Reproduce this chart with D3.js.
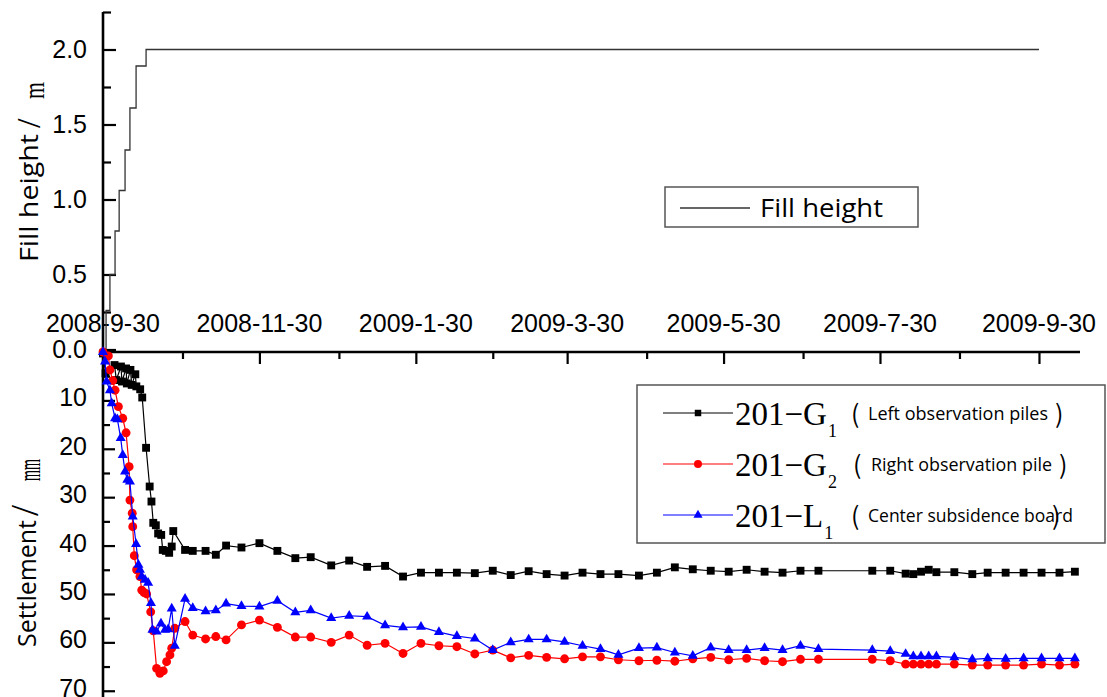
<!DOCTYPE html>
<html>
<head>
<meta charset="utf-8">
<script src="https://cdn.jsdelivr.net/npm/d3@7"></script>
<style>
  body { margin: 0; background: #fff; }
  svg { display: block; }
</style>
</head>
<body>
<svg id="chart" width="1107" height="697"></svg>
<script>
// ---- Data -------------------------------------------------------------
// Time is counted in days after filling started (2008-9-30).
const fillDays    = [0, 1.2, 2.7, 4.7, 6.3, 8.6, 10.5, 12.9, 16.8, 365];
const fillHeights = [0, 0.26, 0.5, 0.79, 1.06, 1.33, 1.61, 1.89, 2.0, 2.0];

// Regular survey days shared by all three monitoring points
const surveyDays = [32, 35, 40, 44, 48, 54, 61, 68, 75, 81,
                    89, 96, 103, 110, 117, 124, 131, 138, 145, 152,
                    159, 166, 173, 180, 187, 194, 201, 209, 216, 223,
                    230, 237, 244, 251, 258, 265, 272, 279, 300, 307,
                    313, 316, 319, 322, 325, 332, 339, 345, 352, 359,
                    366, 373, 379];

// 201-G1 (left observation pile)
const g1EarlyDays = [0, 1.0, 4.5, 5.2, 7.0, 7.4, 9.0, 9.3, 10.7, 11.2, 12.6, 13.0, 14.5, 15.3,
                     16.8, 18.2, 18.9, 19.6, 20.6, 21.5, 22.7, 23.3, 24.5, 25.8, 26.8, 27.4];
const g1Values = [0.3, 4.4, 2.7, 5.8, 3.0, 6.1, 3.4, 6.5, 3.7, 6.8, 4.6, 7.1, 7.7, 9.4,
                  19.8, 27.8, 30.9, 35.3, 35.8, 37.5, 37.8, 40.9, 41.1, 41.5, 40.2, 37.0,
                  40.9, 41.1, 41.1, 41.9, 40.0, 40.4, 39.5, 41.1, 42.6, 42.4,
                  44.1, 43.1, 44.4, 44.2, 46.4, 45.6, 45.6, 45.6, 45.7, 45.2,
                  46.1, 45.3, 45.9, 46.2, 45.6, 45.9, 45.9, 46.2, 45.6, 44.5,
                  44.9, 45.2, 45.4, 45.0, 45.4, 45.6, 45.2, 45.2, 45.2, 45.2,
                  45.8, 45.9, 45.4, 45.0, 45.5, 45.5, 45.9, 45.6, 45.6, 45.6,
                  45.6, 45.6, 45.4];

// 201-G2 (right observation pile)
const g2EarlyDays = [0, 2.1, 2.7, 3.8, 4.7, 6.0, 7.7, 9.0, 10.2, 10.5, 11.4, 11.6, 12.2, 13.1,
                     14.4, 15.1, 16.0, 17.0, 18.6, 19.6, 20.9, 22.2, 23.5, 24.8, 26.1, 26.8, 28.0];
const g2Values = [0, 0.8, 3.7, 5.9, 7.9, 11.3, 13.7, 16.7, 23.7, 30.6, 33.3, 36.1, 42.1, 45.0,
                  46.4, 49.2, 49.7, 50.0, 53.7, 57.6, 65.4, 66.4, 65.9, 64.0, 62.6, 61.2, 57.1,
                  55.7, 58.5, 59.3, 58.8, 59.5, 56.4, 55.4, 56.9, 58.9, 58.9,
                  60.0, 58.5, 60.6, 60.2, 62.3, 60.2, 60.7, 60.9, 62.4, 61.6,
                  63.2, 62.7, 63.1, 63.4, 63.0, 63.0, 63.6, 63.8, 63.7, 63.9,
                  63.4, 63.1, 63.6, 63.3, 63.8, 64.0, 63.5, 63.5, 63.5, 63.8,
                  64.5, 64.5, 64.5, 64.5, 64.5, 64.5, 64.7, 64.7, 64.7, 64.7,
                  64.5, 64.7, 64.5];

// 201-L1 (center subsidence board)
const l1EarlyDays = [0, 0.8, 1.4, 2.7, 3.4, 4.7, 5.6, 6.9, 7.7, 8.6, 9.5, 10.5, 11.6, 12.9,
                     13.8, 14.4, 15.1, 16.4, 17.6, 18.7, 19.3, 20.9, 22.6, 24.2, 25.4, 26.8, 28.0];
const l1Values = [0, 2.0, 6.1, 7.9, 10.6, 13.7, 13.9, 17.8, 21.3, 24.7, 26.4, 26.8, 34.0, 39.7,
                  44.0, 45.0, 46.4, 47.1, 47.7, 51.9, 57.4, 57.8, 56.1, 57.4, 57.3, 53.0, 60.7,
                  51.0, 52.9, 53.6, 53.4, 52.0, 52.5, 52.6, 51.4, 53.8, 53.4,
                  55.0, 54.5, 54.7, 56.5, 56.9, 56.8, 57.9, 58.7, 59.2, 61.6,
                  60.0, 59.4, 59.4, 59.9, 60.7, 61.4, 62.6, 61.2, 61.1, 62.1,
                  62.8, 61.1, 61.6, 61.6, 61.2, 61.6, 60.7, 61.4, 61.6, 61.8,
                  62.4, 62.9, 62.9, 62.9, 62.9, 63.1, 63.5, 63.3, 63.4, 63.3,
                  63.3, 63.3, 63.3];

const xTickLabels  = ["2008-9-30", "2008-11-30", "2009-1-30", "2009-3-30", "2009-5-30", "2009-7-30", "2009-9-30"];
const xMinorTicks  = ["2008-10-31", "2008-12-31", "2009-3-1", "2009-4-30", "2009-6-30", "2009-8-30"];
const fillTicks      = [0, 0.5, 1.0, 1.5, 2.0];
const fillMinorTicks = [0.25, 0.75, 1.25, 1.75, 2.25];
const settleTicks      = [10, 20, 30, 40, 50, 60, 70];
const settleMinorTicks = [5, 15, 25, 35, 45, 55, 65];

const seriesNames = ["201\u2212G", "201\u2212G", "201\u2212L"];
const seriesSubs  = ["1", "2", "1"];
const seriesNotes = ["Left observation piles", "Right observation pile", "Center subsidence board"];
const seriesColors = ["#000000", "#ff0000", "#0000ff"];

// ---- Setup ------------------------------------------------------------
const svg = d3.select("#chart");
const startMs = Date.UTC(2008, 8, 30);
const dayToDate = d => new Date(startMs + d * 864e5);
const parseDate = d3.utcParse("%Y-%m-%d");

const x = d3.scaleUtc().domain([dayToDate(0), dayToDate(381)]).range([103, 1080]);
const yFill = d3.scaleLinear().domain([0, 2.25]).range([349.5, 12]);
const ySet = d3.scaleLinear().domain([0, 71.5]).range([352, 698]);

const tickFont = "'Liberation Sans', Arial, sans-serif";
const titleFont = "'Open Sans', 'Noto Sans', sans-serif";
const serifFont = "'Liberation Serif', 'Times New Roman', serif";
const parenFont = "'Noto Sans CJK SC', 'Open Sans', sans-serif";

// ---- Date labels (above the settlement panel) --------------------------
svg.append("g")
  .selectAll("text")
  .data(xTickLabels)
  .join("text")
  .attr("x", d => x(parseDate(d)))
  .attr("y", 332)
  .attr("text-anchor", "middle")
  .attr("font-family", tickFont)
  .attr("font-size", 25)
  .attr("fill", "#000")
  .text(d => d);

// ---- Axes ---------------------------------------------------------------
function styleAxis(g, width) {
  g.select(".domain").remove();
  g.selectAll(".tick line").attr("stroke", "#000").attr("stroke-width", width);
  g.selectAll(".tick text").attr("font-family", tickFont).attr("font-size", 25).attr("fill", "#000");
}

// fill height axis
svg.append("g").attr("transform", "translate(103,0)")
  .call(d3.axisLeft(yFill).tickValues(fillTicks).tickSizeInner(-13).tickSizeOuter(0)
        .tickPadding(16).tickFormat(d3.format(".1f")))
  .call(g => styleAxis(g, 2.2));
svg.append("g").attr("transform", "translate(103,0)")
  .call(d3.axisLeft(yFill).tickValues(fillMinorTicks).tickSizeInner(-8).tickSizeOuter(0).tickFormat(""))
  .call(g => styleAxis(g, 2.2));

// settlement axis
svg.append("g").attr("transform", "translate(103,0)")
  .call(d3.axisLeft(ySet).tickValues(settleTicks).tickSizeInner(-12).tickSizeOuter(0)
        .tickPadding(16).tickFormat(d3.format("d")))
  .call(g => styleAxis(g, 2.2))
  .call(g => g.selectAll(".tick text").attr("dy", "0.22em"));
svg.append("g").attr("transform", "translate(103,0)")
  .call(d3.axisLeft(ySet).tickValues(settleMinorTicks).tickSizeInner(-7).tickSizeOuter(0).tickFormat(""))
  .call(g => styleAxis(g, 2.2));

// time axis along the top of the settlement panel, ticks pointing down
svg.append("g").attr("transform", "translate(0,352)")
  .call(d3.axisBottom(x).tickValues(xTickLabels.map(parseDate)).tickSizeInner(12).tickSizeOuter(0).tickFormat(""))
  .call(g => styleAxis(g, 2.2));
svg.append("g").attr("transform", "translate(0,352)")
  .call(d3.axisBottom(x).tickValues(xMinorTicks.map(parseDate)).tickSizeInner(7).tickSizeOuter(0).tickFormat(""))
  .call(g => styleAxis(g, 2.2));

// spines
svg.append("line").attr("x1", 103).attr("x2", 103).attr("y1", 12).attr("y2", 697)
  .attr("stroke", "#000").attr("stroke-width", 2.6);
svg.append("line").attr("x1", 103).attr("x2", 1080).attr("y1", 352).attr("y2", 352)
  .attr("stroke", "#000").attr("stroke-width", 2.6);

// ---- Fill height step line -----------------------------------------------
const fillData = fillDays.map((d, i) => [d, fillHeights[i]]);
svg.append("path")
  .datum(fillData)
  .attr("fill", "none")
  .attr("stroke", "#333")
  .attr("stroke-width", 1.3)
  .attr("d", d3.line().curve(d3.curveStepAfter)
    .x(d => x(dayToDate(d[0])))
    .y(d => yFill(d[1])));

// ---- Settlement series --------------------------------------------------
const seriesDays = [g1EarlyDays.concat(surveyDays), g2EarlyDays.concat(surveyDays), l1EarlyDays.concat(surveyDays)];
const seriesVals = [g1Values, g2Values, l1Values];
const symbols = [d3.symbol(d3.symbolSquare, 62), d3.symbol(d3.symbolCircle, 62), d3.symbol(d3.symbolTriangle, 44)];

const settleLine = d3.line()
  .x(d => x(dayToDate(d[0])))
  .y(d => ySet(d[1]));

seriesDays.forEach((days, i) => {
  const pts = days.map((d, j) => [d, seriesVals[i][j]]);
  const g = svg.append("g");
  g.append("path")
    .datum(pts)
    .attr("fill", "none")
    .attr("stroke", seriesColors[i])
    .attr("stroke-width", 1.2)
    .attr("d", settleLine);
  g.selectAll("path.mark")
    .data(pts)
    .join("path")
    .attr("class", "mark")
    .attr("transform", d => `translate(${x(dayToDate(d[0]))},${ySet(d[1])})`)
    .attr("d", symbols[i])
    .attr("fill", seriesColors[i]);
});

// ---- Fill height legend ---------------------------------------------------
const fl = svg.append("g");
fl.append("rect").attr("x", 665).attr("y", 187).attr("width", 253).attr("height", 40)
  .attr("fill", "#fff").attr("stroke", "#555").attr("stroke-width", 1.5);
fl.append("line").attr("x1", 680).attr("x2", 750).attr("y1", 208).attr("y2", 208)
  .attr("stroke", "#333").attr("stroke-width", 1.3);
fl.append("text").attr("x", 760).attr("y", 217)
  .attr("font-family", titleFont).attr("font-size", 25)
  .attr("textLength", 123).attr("lengthAdjust", "spacingAndGlyphs")
  .text("Fill height");

// ---- Settlement legend ----------------------------------------------------
const sl = svg.append("g");
sl.append("rect").attr("x", 637).attr("y", 385).attr("width", 468).attr("height", 158)
  .attr("fill", "#fff").attr("stroke", "#555").attr("stroke-width", 1.5);
const rowY = [413, 464, 515];
const noteX = [868, 871, 868];
const noteLen = [180, 181, 205];
const openX = [851, 853, 851];
const closeX = [1055, 1059, 1052];
seriesNames.forEach((name, i) => {
  const y = rowY[i];
  sl.append("line").attr("x1", 663).attr("x2", 733).attr("y1", y).attr("y2", y)
    .attr("stroke", seriesColors[i]).attr("stroke-width", 1.2);
  sl.append("path").attr("transform", `translate(698,${y})`)
    .attr("d", d3.symbol([d3.symbolSquare, d3.symbolCircle, d3.symbolTriangle][i], [42, 50, 36][i]))
    .attr("fill", seriesColors[i]);
  const t = sl.append("text").attr("x", 735).attr("y", y + 12)
    .attr("font-family", serifFont).attr("font-size", 33).attr("fill", "#000");
  t.append("tspan").text(name);
  t.append("tspan").attr("font-size", 18).attr("dx", 1).attr("dy", 12).text(seriesSubs[i]);
  sl.append("text").attr("x", openX[i]).attr("y", y + 10)
    .attr("font-family", parenFont).attr("font-size", 25).text("(");
  sl.append("text").attr("x", noteX[i]).attr("y", y + 7)
    .attr("font-family", titleFont).attr("font-size", 19)
    .attr("textLength", noteLen[i]).attr("lengthAdjust", "spacingAndGlyphs")
    .text(seriesNotes[i]);
  sl.append("text").attr("x", closeX[i]).attr("y", y + 10)
    .attr("font-family", parenFont).attr("font-size", 25).text(")");
});

// ---- Axis titles ----------------------------------------------------------
function axisTitle(tx, ty, word, wordLen, slashAt, slashSize, unit, unitAt, unitLen, unitSize, unitShift) {
  const g = svg.append("g").attr("transform", `translate(${tx},${ty}) rotate(-90)`);
  g.append("text").attr("x", 0).attr("y", 0)
    .attr("font-family", titleFont).attr("font-size", 25)
    .attr("textLength", wordLen).attr("lengthAdjust", "spacingAndGlyphs")
    .text(word);
  g.append("text").attr("x", slashAt).attr("y", 2)
    .attr("font-family", serifFont).attr("font-size", slashSize)
    .text("/");
  g.append("text").attr("x", unitAt).attr("y", unitShift)
    .attr("font-family", serifFont).attr("font-size", unitSize)
    .attr("textLength", unitLen).attr("lengthAdjust", "spacingAndGlyphs")
    .text(unit);
}
axisTitle(38, 262, "Fill height", 128, 134, 34, "m", 163, 17, 30, 6);
axisTitle(36, 647, "Settlement", 127, 131, 40, "mm", 166, 22, 32, 4);
</script>
</body>
</html>
